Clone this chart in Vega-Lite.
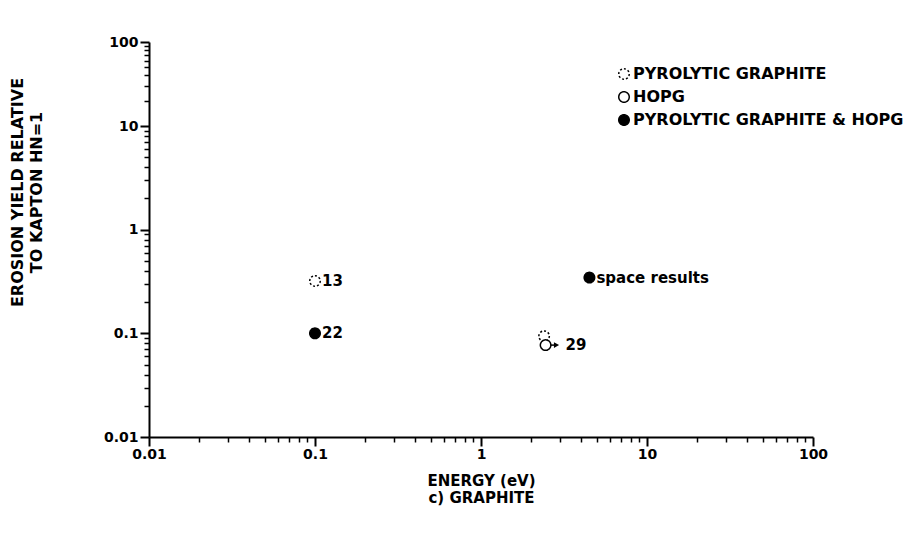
{
  "$schema": "https://vega.github.io/schema/vega-lite/v6.json",
  "width": 664,
  "height": 395,
  "autosize": {"type": "none"},
  "padding": {"left": 149, "top": 42, "right": 111, "bottom": 105},
  "background": "white",
  "config": {
    "view": {"stroke": null},
    "font": "DejaVu Sans",
    "axis": {
      "domainColor": "black",
      "domainWidth": 2,
      "tickColor": "black",
      "grid": false,
      "labelColor": "black",
      "labelFont": "DejaVu Sans",
      "labelFontWeight": "bold",
      "labelFontSize": 14,
      "labelOverlap": false,
      "labelFlush": false,
      "titleColor": "black",
      "titleFont": "DejaVu Sans",
      "titleFontWeight": "bold",
      "titleFontSize": 15
    }
  },
  "datasets": {
    "points": [
      {"energy": 0.1, "yield": 0.32, "material": "PYROLYTIC GRAPHITE", "note": "13"},
      {"energy": 2.4, "yield": 0.094, "material": "PYROLYTIC GRAPHITE", "note": ""},
      {"energy": 2.45, "yield": 0.077, "material": "HOPG", "note": "29"},
      {"energy": 0.1, "yield": 0.1, "material": "PYROLYTIC GRAPHITE & HOPG", "note": "22"},
      {"energy": 4.5, "yield": 0.345, "material": "PYROLYTIC GRAPHITE & HOPG", "note": "space results"}
    ],
    "pointer": [
      {"energy": 2.55, "energy_tip": 2.85, "yield": 0.077}
    ]
  },
  "encoding": {
    "x": {
      "field": "energy",
      "type": "quantitative",
      "scale": {"type": "log", "domain": [0.01, 100]},
      "title": ["ENERGY (eV)", "c)  GRAPHITE"],
      "axis": {
        "values": [0.01, 0.02, 0.03, 0.04, 0.05, 0.06, 0.07, 0.08, 0.09, 0.1, 0.2, 0.3, 0.4, 0.5, 0.6, 0.7, 0.8, 0.9, 1, 2, 3, 4, 5, 6, 7, 8, 9, 10, 20, 30, 40, 50, 60, 70, 80, 90, 100],
        "labelExpr": "indexof([0.01, 0.1, 1, 10, 100], datum.value) >= 0 ? format(datum.value, '~g') : ''",
        "tickSize": {"condition": {"test": "indexof([0.01, 0.1, 1, 10, 100], datum.value) >= 0", "value": 9}, "value": 5},
        "tickWidth": {"condition": {"test": "indexof([0.01, 0.1, 1, 10, 100], datum.value) >= 0", "value": 2}, "value": 1.5},
        "labelPadding": 1,
        "titlePadding": 12,
        "titleLineHeight": 17
      }
    },
    "y": {
      "field": "yield",
      "type": "quantitative",
      "scale": {"type": "log", "domain": [0.01, 10, 100], "range": [395, 84, 0]},
      "title": ["EROSION YIELD RELATIVE", "TO KAPTON HN=1"],
      "axis": {
        "values": [0.01, 0.02, 0.03, 0.04, 0.05, 0.06, 0.07, 0.08, 0.09, 0.1, 0.2, 0.3, 0.4, 0.5, 0.6, 0.7, 0.8, 0.9, 1, 2, 3, 4, 5, 6, 7, 8, 9, 10, 20, 30, 40, 50, 60, 70, 80, 90, 100],
        "labelExpr": "indexof([0.01, 0.1, 1, 10, 100], datum.value) >= 0 ? format(datum.value, '~g') : ''",
        "tickSize": {"condition": {"test": "indexof([0.01, 0.1, 1, 10, 100], datum.value) >= 0", "value": 9}, "value": 5},
        "tickWidth": {"condition": {"test": "indexof([0.01, 0.1, 1, 10, 100], datum.value) >= 0", "value": 2}, "value": 1.5},
        "labelPadding": 2,
        "titleFontSize": 16,
        "titleLineHeight": 19,
        "titleX": -124,
        "titleY": 150
      }
    }
  },
  "layer": [
    {
      "data": {"name": "pointer"},
      "mark": {"type": "rule", "color": "black", "strokeWidth": 1.5},
      "encoding": {"x2": {"field": "energy_tip"}}
    },
    {
      "data": {"name": "pointer"},
      "mark": {"type": "point", "shape": "triangle-right", "filled": true, "color": "black", "size": 35, "opacity": 1},
      "encoding": {"x": {"field": "energy_tip", "type": "quantitative"}}
    },
    {
      "data": {"name": "points"},
      "mark": {"type": "point", "shape": "circle", "filled": true, "size": 110, "stroke": "black", "strokeWidth": 1.5, "opacity": 1},
      "encoding": {
        "fill": {
          "field": "material",
          "type": "nominal",
          "scale": {"domain": ["PYROLYTIC GRAPHITE", "HOPG", "PYROLYTIC GRAPHITE & HOPG"], "range": ["white", "white", "black"]},
          "legend": {"orient": "none", "legendX": 467, "legendY": 24, "title": null, "labelFont": "DejaVu Sans", "labelFontWeight": "bold", "labelFontSize": 16, "labelColor": "black", "labelLimit": 400, "symbolSize": 110, "symbolStrokeWidth": 1.5, "symbolStrokeColor": "black", "symbolType": "circle", "rowPadding": 5, "labelOffset": 1}
        },
        "strokeDash": {
          "field": "material",
          "type": "nominal",
          "scale": {"domain": ["PYROLYTIC GRAPHITE", "HOPG", "PYROLYTIC GRAPHITE & HOPG"], "range": [[2, 2], [1, 0], [1, 0]]},
          "legend": {"orient": "none", "legendX": 467, "legendY": 24, "title": null, "labelFont": "DejaVu Sans", "labelFontWeight": "bold", "labelFontSize": 16, "labelColor": "black", "labelLimit": 400, "symbolSize": 110, "symbolStrokeWidth": 1.5, "symbolStrokeColor": "black", "symbolType": "circle", "rowPadding": 5, "labelOffset": 1}
        }
      }
    },
    {
      "data": {"name": "points"},
      "transform": [{"filter": "datum.note != '' && datum.note != '29'"}],
      "mark": {"type": "text", "align": "left", "baseline": "middle", "dx": 7, "font": "DejaVu Sans", "fontWeight": "bold", "fontSize": 15, "color": "black"},
      "encoding": {"text": {"field": "note"}}
    },
    {
      "data": {"name": "points"},
      "transform": [{"filter": "datum.note == '29'"}],
      "mark": {"type": "text", "align": "left", "baseline": "middle", "dx": 20, "font": "DejaVu Sans", "fontWeight": "bold", "fontSize": 15, "color": "black"},
      "encoding": {"text": {"field": "note"}}
    }
  ]
}
